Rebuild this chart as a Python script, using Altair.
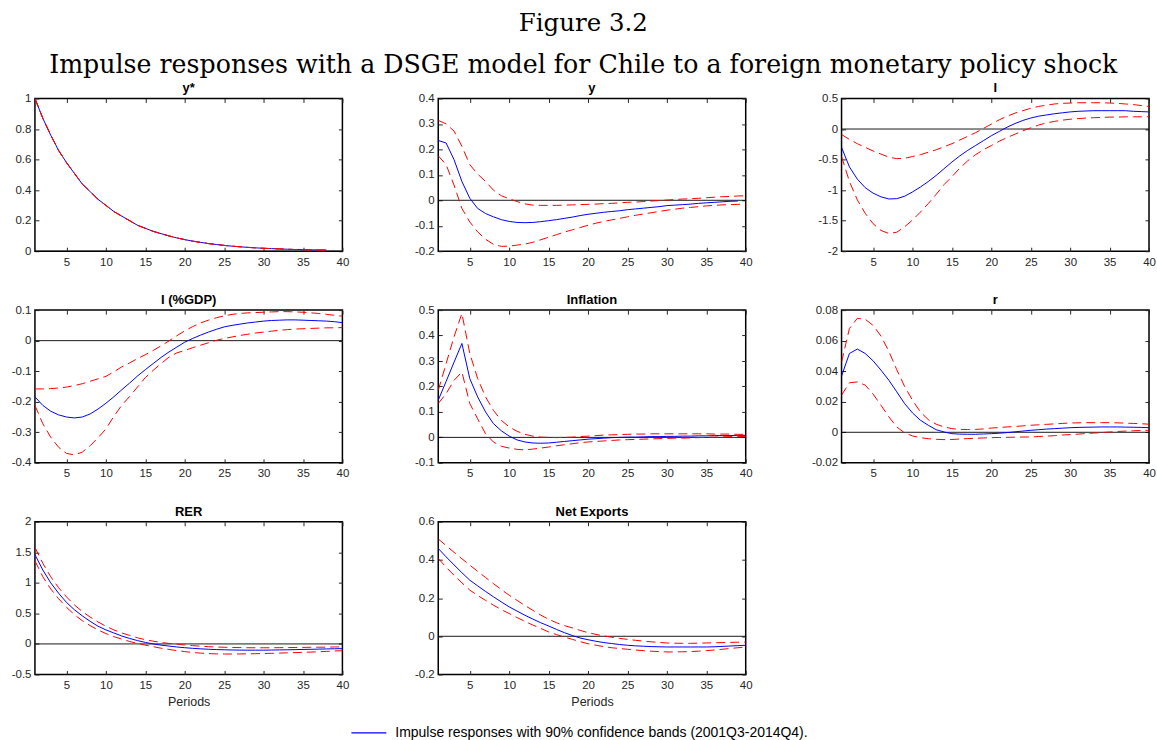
import altair as alt
import pandas as pd

# ---------------------------------------------------------------------------
# Impulse responses (median and 90% bands), quarters 1..40
# ---------------------------------------------------------------------------
periods = list(range(1, 41))
x_ticks = [5, 10, 15, 20, 25, 30, 35, 40]
zero_level = [0]

ystar_med = [1.00, 0.87, 0.76, 0.66, 0.58, 0.51, 0.44, 0.39, 0.34, 0.30,
             0.26, 0.23, 0.20, 0.17, 0.15, 0.13, 0.115, 0.10, 0.087, 0.076,
             0.066, 0.058, 0.050, 0.044, 0.038, 0.033, 0.029, 0.025, 0.022, 0.019,
             0.017, 0.015, 0.013, 0.011, 0.010, 0.009, 0.008, 0.007]
ystar_lo = [1.00, 0.87, 0.76, 0.66, 0.58, 0.51, 0.44, 0.39, 0.34, 0.30,
            0.26, 0.23, 0.20, 0.17, 0.15, 0.13, 0.115, 0.10, 0.087, 0.076,
            0.066, 0.058, 0.050, 0.044, 0.038, 0.033, 0.029, 0.025, 0.022, 0.019,
            0.017, 0.015, 0.013, 0.011, 0.010, 0.009, 0.008, 0.007]
ystar_hi = [1.00, 0.87, 0.76, 0.66, 0.58, 0.51, 0.44, 0.39, 0.34, 0.30,
            0.26, 0.23, 0.20, 0.17, 0.15, 0.13, 0.115, 0.10, 0.087, 0.076,
            0.066, 0.058, 0.050, 0.044, 0.038, 0.033, 0.029, 0.025, 0.022, 0.019,
            0.017, 0.015, 0.013, 0.011, 0.010, 0.009, 0.008, 0.007]

y_med = [0.235, 0.225, 0.160, 0.074, 0.008, -0.032, -0.052, -0.065, -0.076, -0.083,
         -0.087, -0.088, -0.087, -0.084, -0.080, -0.076, -0.071, -0.066, -0.060, -0.055,
         -0.051, -0.047, -0.044, -0.041, -0.037, -0.034, -0.031, -0.028, -0.025, -0.021,
         -0.019, -0.017, -0.015, -0.012, -0.010, -0.008, -0.006, -0.004, -0.003]
y_hi = [0.314, 0.300, 0.272, 0.212, 0.140, 0.103, 0.074, 0.040, 0.018, 0.006,
        -0.005, -0.014, -0.019, -0.020, -0.020, -0.020, -0.019, -0.018, -0.017, -0.016,
        -0.015, -0.013, -0.012, -0.010, -0.008, -0.007, -0.005, -0.003, -0.001, 0.001,
        0.003, 0.005, 0.006, 0.008, 0.010, 0.012, 0.014, 0.015, 0.017, 0.018]
y_lo = [0.175, 0.140, 0.060, -0.032, -0.085, -0.124, -0.153, -0.173, -0.181, -0.180,
        -0.176, -0.172, -0.165, -0.155, -0.145, -0.135, -0.125, -0.116, -0.107, -0.098,
        -0.090, -0.083, -0.077, -0.071, -0.065, -0.059, -0.054, -0.049, -0.044, -0.039,
        -0.035, -0.031, -0.028, -0.025, -0.022, -0.020, -0.018, -0.017, -0.016, -0.015]

inv_med = [-0.30, -0.62, -0.82, -0.96, -1.05, -1.11, -1.145, -1.14, -1.10, -1.03,
           -0.95, -0.86, -0.76, -0.65, -0.54, -0.44, -0.35, -0.27, -0.19, -0.11,
           -0.04, 0.03, 0.09, 0.14, 0.18, 0.21, 0.23, 0.25, 0.265, 0.28,
           0.29, 0.295, 0.30, 0.30, 0.30, 0.30, 0.30, 0.29, 0.285, 0.28]
inv_hi = [-0.09, -0.17, -0.24, -0.30, -0.36, -0.41, -0.46, -0.485, -0.48, -0.45,
          -0.42, -0.38, -0.34, -0.29, -0.24, -0.18, -0.12, -0.06, 0.01, 0.08,
          0.15, 0.21, 0.26, 0.30, 0.34, 0.37, 0.39, 0.41, 0.42, 0.425,
          0.43, 0.43, 0.43, 0.43, 0.425, 0.42, 0.41, 0.40, 0.385, 0.37]
inv_lo = [-0.45, -0.86, -1.16, -1.38, -1.55, -1.66, -1.71, -1.69, -1.60, -1.49,
          -1.36, -1.22, -1.07, -0.91, -0.78, -0.64, -0.52, -0.42, -0.34, -0.27,
          -0.20, -0.14, -0.085, -0.03, 0.02, 0.065, 0.10, 0.125, 0.145, 0.16,
          0.17, 0.18, 0.185, 0.19, 0.195, 0.195, 0.20, 0.20, 0.20, 0.20]

invgdp_med = [-0.184, -0.212, -0.231, -0.243, -0.250, -0.253, -0.250, -0.240, -0.224, -0.205,
              -0.184, -0.161, -0.139, -0.116, -0.095, -0.075, -0.055, -0.037, -0.021, -0.005,
              0.007, 0.018, 0.028, 0.037, 0.045, 0.050, 0.054, 0.058, 0.061, 0.064,
              0.066, 0.067, 0.068, 0.068, 0.067, 0.066, 0.065, 0.064, 0.062, 0.059]
invgdp_hi = [-0.158, -0.158, -0.157, -0.155, -0.152, -0.147, -0.141, -0.133, -0.125, -0.117,
             -0.102, -0.086, -0.073, -0.059, -0.046, -0.032, -0.017, -0.001, 0.016, 0.032,
             0.046, 0.058, 0.067, 0.075, 0.081, 0.086, 0.089, 0.091, 0.092, 0.093,
             0.094, 0.095, 0.095, 0.094, 0.093, 0.091, 0.089, 0.086, 0.083, 0.080]
invgdp_lo = [-0.212, -0.272, -0.316, -0.349, -0.369, -0.374, -0.365, -0.344, -0.318, -0.289,
             -0.248, -0.212, -0.183, -0.152, -0.121, -0.097, -0.075, -0.054, -0.040, -0.032,
             -0.023, -0.015, -0.007, 0.001, 0.007, 0.012, 0.017, 0.021, 0.025, 0.028,
             0.031, 0.034, 0.036, 0.038, 0.039, 0.040, 0.041, 0.042, 0.042, 0.043]

infl_med = [0.146, 0.220, 0.295, 0.369, 0.231, 0.159, 0.100, 0.054, 0.026, 0.005,
            -0.010, -0.018, -0.022, -0.023, -0.022, -0.019, -0.016, -0.013, -0.010, -0.007,
            -0.005, -0.003, -0.001, 0.000, 0.001, 0.001, 0.002, 0.003, 0.003, 0.004,
            0.004, 0.005, 0.005, 0.006, 0.006, 0.007, 0.007, 0.007, 0.008, 0.008]
infl_hi = [0.185, 0.290, 0.395, 0.487, 0.330, 0.231, 0.159, 0.106, 0.067, 0.041,
           0.024, 0.012, 0.005, 0.001, 0.000, -0.001, 0.000, 0.001, 0.003, 0.005,
           0.007, 0.009, 0.010, 0.011, 0.012, 0.013, 0.013, 0.014, 0.014, 0.014,
           0.014, 0.014, 0.014, 0.014, 0.014, 0.013, 0.013, 0.013, 0.012, 0.012]
infl_lo = [0.133, 0.172, 0.224, 0.257, 0.133, 0.073, 0.014, -0.018, -0.035, -0.042,
           -0.047, -0.049, -0.046, -0.042, -0.038, -0.033, -0.029, -0.025, -0.021, -0.018,
           -0.016, -0.014, -0.012, -0.010, -0.009, -0.008, -0.007, -0.006, -0.005, -0.004,
           -0.003, -0.003, -0.002, -0.001, 0.000, 0.001, 0.002, 0.003, 0.003, 0.004]

r_med = [0.0368, 0.0516, 0.0545, 0.0516, 0.0468, 0.0407, 0.0341, 0.0265, 0.0188, 0.0127,
         0.0079, 0.0046, 0.0017, 0.0002, -0.0009, -0.0012, -0.0013, -0.0013, -0.0011, -0.0009,
         -0.0006, -0.0002, 0.0003, 0.0008, 0.0013, 0.0017, 0.0021, 0.0024, 0.0027, 0.0030,
         0.0032, 0.0033, 0.0034, 0.0035, 0.0035, 0.0035, 0.0034, 0.0033, 0.0032, 0.0030]
r_hi = [0.0460, 0.0680, 0.0746, 0.0740, 0.0700, 0.0630, 0.0530, 0.0410, 0.0300, 0.0210,
        0.0133, 0.0083, 0.0053, 0.0035, 0.0024, 0.0019, 0.0018, 0.0019, 0.0022, 0.0028,
        0.0031, 0.0035, 0.0038, 0.0042, 0.0046, 0.0049, 0.0052, 0.0055, 0.0058, 0.0061,
        0.0062, 0.0063, 0.0063, 0.0063, 0.0063, 0.0062, 0.0060, 0.0058, 0.0056, 0.0053]
r_lo = [0.0243, 0.0324, 0.0330, 0.0309, 0.0250, 0.0177, 0.0101, 0.0035, -0.0004, -0.0024,
        -0.0035, -0.0042, -0.0046, -0.0048, -0.0047, -0.0044, -0.0041, -0.0039, -0.0037, -0.0035,
        -0.0034, -0.0033, -0.0032, -0.0031, -0.0031, -0.0028, -0.0025, -0.0022, -0.0018, -0.0015,
        -0.0012, -0.0008, -0.0005, -0.0002, 0.0002, 0.0005, 0.0008, 0.0010, 0.0012, 0.0013]

rer_med = [1.46, 1.21, 1.00, 0.83, 0.68, 0.56, 0.46, 0.37, 0.29, 0.23,
           0.18, 0.13, 0.09, 0.055, 0.025, 0.000, -0.020, -0.035, -0.050, -0.062,
           -0.072, -0.080, -0.087, -0.092, -0.096, -0.099, -0.101, -0.102, -0.102, -0.102,
           -0.100, -0.098, -0.096, -0.093, -0.090, -0.088, -0.085, -0.082, -0.079, -0.077]
rer_hi = [1.58, 1.32, 1.10, 0.92, 0.77, 0.64, 0.53, 0.44, 0.36, 0.29,
          0.23, 0.18, 0.14, 0.10, 0.07, 0.045, 0.025, 0.008, -0.005, -0.017,
          -0.028, -0.037, -0.045, -0.050, -0.055, -0.058, -0.060, -0.062, -0.063, -0.063,
          -0.062, -0.061, -0.060, -0.058, -0.057, -0.055, -0.054, -0.052, -0.050, -0.048]
rer_lo = [1.36, 1.10, 0.90, 0.74, 0.60, 0.48, 0.38, 0.30, 0.23, 0.17,
          0.12, 0.08, 0.04, 0.01, -0.02, -0.045, -0.07, -0.09, -0.11, -0.125,
          -0.14, -0.15, -0.158, -0.163, -0.165, -0.165, -0.164, -0.162, -0.160, -0.157,
          -0.154, -0.150, -0.146, -0.142, -0.138, -0.133, -0.128, -0.122, -0.116, -0.110]

nx_med = [0.460, 0.416, 0.374, 0.333, 0.294, 0.264, 0.235, 0.207, 0.180, 0.154,
          0.132, 0.110, 0.090, 0.071, 0.054, 0.036, 0.019, 0.004, -0.009, -0.018,
          -0.026, -0.033, -0.038, -0.043, -0.047, -0.050, -0.052, -0.054, -0.055, -0.056,
          -0.056, -0.056, -0.056, -0.056, -0.056, -0.055, -0.053, -0.051, -0.049, -0.047]
nx_hi = [0.510, 0.475, 0.440, 0.406, 0.373, 0.340, 0.308, 0.276, 0.245, 0.215,
         0.188, 0.161, 0.136, 0.111, 0.089, 0.071, 0.056, 0.044, 0.031, 0.019,
         0.010, 0.002, -0.005, -0.011, -0.016, -0.021, -0.025, -0.029, -0.032, -0.035,
         -0.036, -0.037, -0.037, -0.036, -0.035, -0.034, -0.033, -0.032, -0.031, -0.030]
nx_lo = [0.408, 0.362, 0.320, 0.280, 0.242, 0.214, 0.188, 0.163, 0.140, 0.119,
         0.098, 0.078, 0.059, 0.041, 0.023, 0.009, -0.004, -0.016, -0.028, -0.039,
         -0.047, -0.054, -0.060, -0.064, -0.068, -0.072, -0.075, -0.078, -0.080, -0.082,
         -0.082, -0.081, -0.080, -0.078, -0.075, -0.072, -0.068, -0.064, -0.060, -0.056]

panel_titles = ["y*", "y", "I", "I (%GDP)", "Inflation", "r", "RER", "Net Exports"]
panel_series = [
    (ystar_med, ystar_lo, ystar_hi),
    (y_med, y_lo, y_hi),
    (inv_med, inv_lo, inv_hi),
    (invgdp_med, invgdp_lo, invgdp_hi),
    (infl_med, infl_lo, infl_hi),
    (r_med, r_lo, r_hi),
    (rer_med, rer_lo, rer_hi),
    (nx_med, nx_lo, nx_hi),
]
panel_y_ticks = [
    [0, 0.2, 0.4, 0.6, 0.8, 1],
    [-0.2, -0.1, 0, 0.1, 0.2, 0.3, 0.4],
    [-2, -1.5, -1, -0.5, 0, 0.5],
    [-0.4, -0.3, -0.2, -0.1, 0, 0.1],
    [-0.1, 0, 0.1, 0.2, 0.3, 0.4, 0.5],
    [-0.02, 0, 0.02, 0.04, 0.06, 0.08],
    [-0.5, 0, 0.5, 1, 1.5, 2],
    [-0.2, 0, 0.2, 0.4, 0.6],
]

LEGEND_TEXT = "Impulse responses with 90% confidence bands (2001Q3-2014Q4)."
FIG_NUMBER = "Figure 3.2"
FIG_TITLE = "Impulse responses with a DSGE model for Chile to a foreign monetary policy shock"

SANS = "Liberation Sans"
SERIF = "DejaVu Serif"
INK = "#262626"
BLUE = "#0000ff"
RED = "#ff0000"
PLOT_W, PLOT_H = 308, 153


def tick_axis(orient, values, labels=True):
    """MATLAB-style axis: ticks drawn inward, no domain line (the frame is the view stroke)."""
    pad = 5 if orient in ("bottom", "top") else 4
    return alt.Axis(
        orient=orient, values=values, domain=False, grid=False,
        ticks=True, tickSize=4, tickColor=INK, tickWidth=1, offset=-4,
        labels=labels, labelPadding=pad, labelFont=SANS, labelFontSize=11.5,
        labelColor=INK, labelFlush=False, labelOverlap=False,
        labelExpr="'' + datum.value",
        titleFont=SANS, titleFontSize=12.5, titleFontWeight="normal",
        titleColor=INK, titlePadding=5,
    )


def make_panel(title, series, yticks, bottom_row):
    med, lo, hi = series
    rows = []
    for name, vals in (("median", med), ("lower", lo), ("upper", hi)):
        for p, v in zip(periods, vals):
            rows.append({"period": p, "value": v, "series": name, "label": LEGEND_TEXT})
    df = pd.DataFrame(rows)

    xs = alt.Scale(domain=[1, 40], nice=False, zero=False)
    ys = alt.Scale(domain=[yticks[0], yticks[-1]], nice=False, zero=False)
    base = alt.Chart(df)

    zero = alt.Chart(pd.DataFrame({"level": zero_level})).mark_rule(
        color="black", strokeWidth=0.9
    ).encode(y=alt.Y("level:Q", scale=ys, axis=None))

    median = base.transform_filter("datum.series == 'median'").mark_line(
        strokeWidth=1, clip=True
    ).encode(
        x=alt.X("period:Q", scale=xs, axis=tick_axis("bottom", x_ticks),
                title="Periods" if bottom_row else None),
        y=alt.Y("value:Q", scale=ys, axis=tick_axis("left", yticks), title=None),
        color=alt.Color(
            "label:N",
            scale=alt.Scale(domain=[LEGEND_TEXT], range=[BLUE]),
            legend=alt.Legend(
                orient="none", legendX=316, legendY=617, title=None,
                symbolType="stroke", symbolSize=1225, symbolStrokeWidth=1.2,
                symbolStrokeColor=BLUE, labelOffset=8,
                labelFont=SANS, labelFontSize=14, labelColor="black",
                labelLimit=0, padding=0,
            ),
        ),
    )

    lower = base.transform_filter("datum.series == 'lower'").mark_line(
        color=RED, strokeWidth=1, strokeDash=[9, 5], clip=True
    ).encode(
        x=alt.X("period:Q", scale=xs, axis=None),
        y=alt.Y("value:Q", scale=ys, axis=None),
    )
    upper = base.transform_filter("datum.series == 'upper'").mark_line(
        color=RED, strokeWidth=1, strokeDash=[9, 5], clip=True
    ).encode(
        x=alt.X("period:Q", scale=xs, axis=tick_axis("top", x_ticks, labels=False), title=None),
        y=alt.Y("value:Q", scale=ys, axis=tick_axis("right", yticks, labels=False), title=None),
    )

    return alt.layer(zero, median, lower, upper).resolve_axis(
        x="independent", y="independent"
    ).properties(
        width=PLOT_W, height=PLOT_H,
        title=alt.TitleParams(title, font=SANS, fontSize=13, fontWeight="bold",
                              color="black", offset=-3),
    )


panels = [
    make_panel(t, s, yt, i >= 6)
    for i, (t, s, yt) in enumerate(zip(panel_titles, panel_series, panel_y_ticks))
]

chart = alt.concat(
    *panels, columns=3, bounds="flush", spacing={"row": 59, "column": 96}
).properties(
    title=alt.TitleParams(
        FIG_NUMBER, subtitle=FIG_TITLE, font=SERIF, fontSize=24.5, fontWeight="normal",
        color="black", subtitleFont=SERIF, subtitleFontSize=25.3, subtitleColor="black",
        subtitlePadding=17, anchor="middle", offset=2,
    ),
    padding={"left": 10, "right": 0, "top": 10, "bottom": 0},
).configure_view(stroke="black", strokeWidth=1.5)

chart.save("out.html", embed_options={"renderer": "svg", "actions": False})
